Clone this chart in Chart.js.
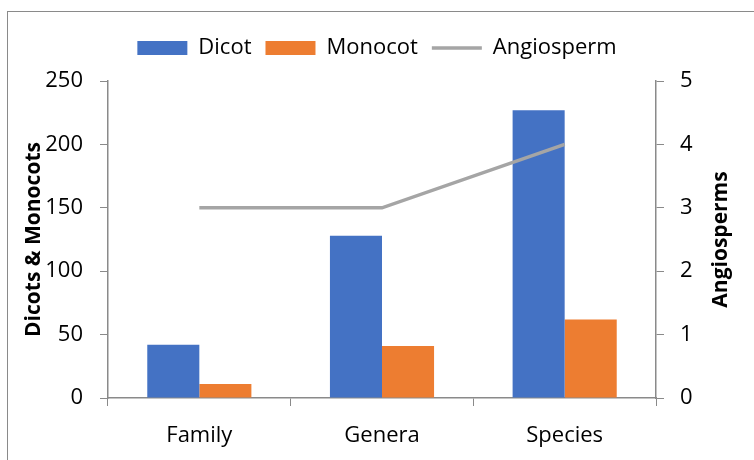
<!DOCTYPE html>
<html><head><meta charset="utf-8">
<script src="https://cdn.jsdelivr.net/npm/chart.js@4"></script>
<style>
html,body{margin:0;padding:0;background:#fff;}
#wrap{position:relative;width:754px;height:460px;overflow:hidden;}
#frame{position:absolute;left:7px;top:11px;width:800px;height:500px;border-left:1.5px solid #8a8a8a;border-top:1.5px solid #8a8a8a;}
canvas{position:absolute;left:0;top:0;}
</style></head><body>
<div id="wrap"><div id="frame"></div><canvas id="c" width="754" height="460"></canvas></div>
<script>
const categories = ['Family', 'Genera', 'Species'];
const dicot = [42, 128, 227];
const monocot = [11, 41, 62];
const angiosperm = [3, 3, 4];
const leftAxisTitle = 'Dicots & Monocots';
const rightAxisTitle = 'Angiosperms';

const FONT = '"Open Sans", Lato, sans-serif';
const AXIS = '#8a8a8a';

const legendSpacer = {
  id: 'legendSpacer',
  beforeInit(chart) {
    const l = chart.legend;
    if (!l || l._spaced) return;
    const f = l.fit;
    l.fit = function () { f.call(this); this.height += 12; };
    l._spaced = true;
  }
};

const rightTitle = {
  id: 'rightTitle',
  afterDraw(chart) {
    const a = chart.chartArea;
    const ctx = chart.ctx;
    ctx.save();
    ctx.translate(721, (a.top + a.bottom) / 2);
    ctx.rotate(-Math.PI / 2);
    ctx.textAlign = 'center';
    ctx.textBaseline = 'middle';
    ctx.fillStyle = '#000';
    ctx.font = 'bold 21px ' + FONT;
    ctx.fillText(rightAxisTitle, 0, 0);
    ctx.restore();
  }
};

new Chart(document.getElementById('c'), {
  data: {
    labels: categories,
    datasets: [
      { type: 'bar', label: 'Dicot', data: dicot, backgroundColor: '#4472C4', yAxisID: 'y', order: 1, pointStyle: 'rect',
        categoryPercentage: 0.57, barPercentage: 1.0 },
      { type: 'bar', label: 'Monocot', data: monocot, backgroundColor: '#ED7D31', yAxisID: 'y', order: 1, pointStyle: 'rect',
        categoryPercentage: 0.57, barPercentage: 1.0 },
      { type: 'line', label: 'Angiosperm', data: angiosperm, borderColor: '#A5A5A5', backgroundColor: '#A5A5A5',
        borderWidth: 3.5, pointRadius: 0, pointStyle: 'line', yAxisID: 'y1', order: 0, tension: 0 }
    ]
  },
  plugins: [legendSpacer, rightTitle],
  options: {
    responsive: false,
    animation: false,
    layout: { padding: { left: 10, right: 10, top: 23, bottom: 8 } },
    plugins: {
      tooltip: { enabled: false },
      legend: {
        position: 'top',
        labels: {
          usePointStyle: true, pointStyleWidth: 50, boxHeight: 14,
          color: '#000', font: { family: FONT, size: 22 }, padding: 14,
          sort: (a, b) => a.datasetIndex - b.datasetIndex
        }
      }
    },
    scales: {
      x: {
        grid: { display: true, drawOnChartArea: false, drawTicks: true, tickLength: 8, color: AXIS, offset: true },
        border: { color: AXIS, width: 1.5 },
        ticks: { color: '#000', font: { family: FONT, size: 22 }, padding: 17 },
        afterFit: s => { s.height = 54; }
      },
      y: {
        position: 'left', min: 0, max: 250,
        grid: { drawOnChartArea: false, drawTicks: true, tickLength: 8, color: AXIS },
        border: { color: AXIS, width: 1.5 },
        ticks: { stepSize: 50, color: '#000', font: { family: FONT, size: 22 }, padding: 17 },
        title: { display: true, text: leftAxisTitle, color: '#000', font: { family: FONT, size: 21, weight: 'bold' }, padding: { top: 11, bottom: 0 } },
        afterFit: s => { s.width = 98; }
      },
      y1: {
        position: 'right', min: 0, max: 5,
        grid: { drawOnChartArea: false, drawTicks: true, tickLength: 8, color: AXIS },
        border: { color: AXIS, width: 1.5 },
        ticks: { stepSize: 1, color: '#000', font: { family: FONT, size: 22 }, padding: 16 },
        title: { display: false },
        afterFit: s => { s.width = 88; }
      }
    }
  }
});
</script>
</body></html>
